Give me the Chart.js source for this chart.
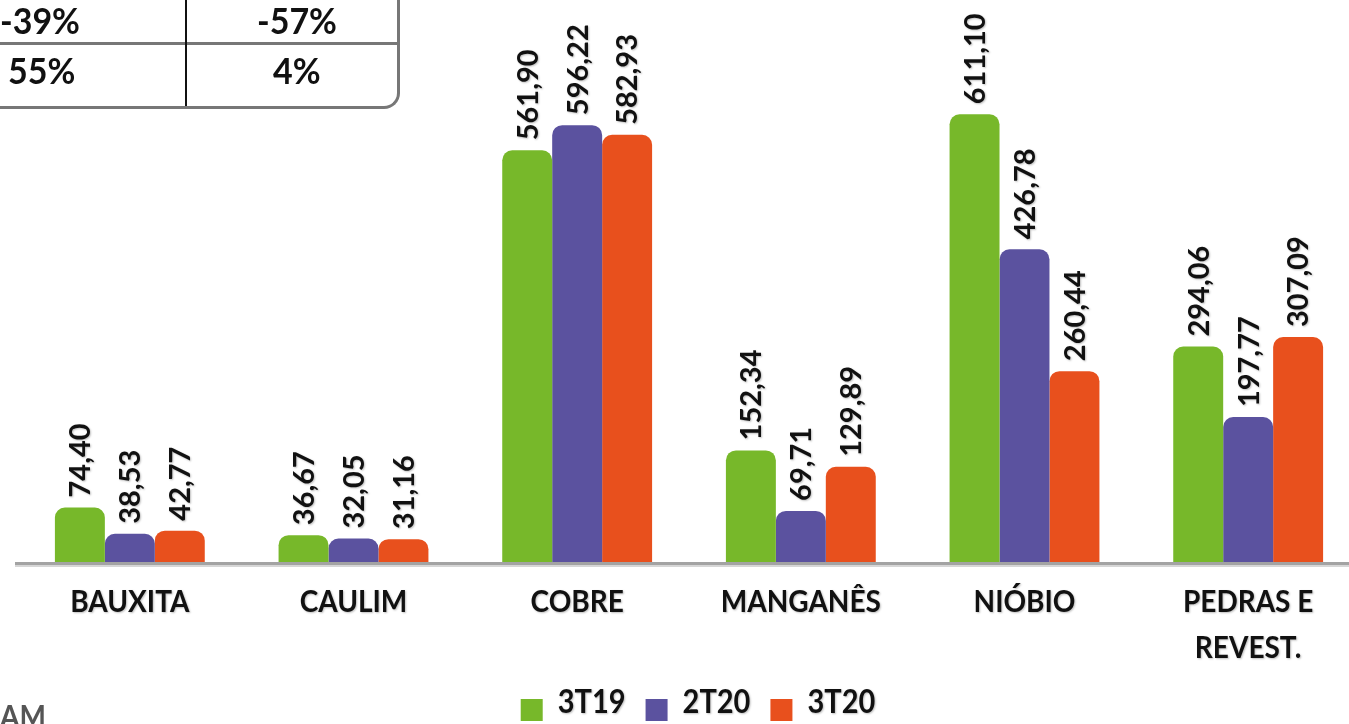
<!DOCTYPE html>
<html>
<head>
<meta charset="utf-8">
<script src="https://cdn.jsdelivr.net/npm/chart.js@4/dist/chart.umd.min.js"></script>
<style>
  html, body { margin: 0; padding: 0; background: #fff; overflow: hidden; width: 1349px; height: 724px; }
  #wrap { position: absolute; left: 0; top: 0; width: 1360px; height: 724px; }
  .t { position: absolute; font-family: Lato, sans-serif; font-weight: 700; font-size: 34px; color: #111; line-height: 1; transform-origin: 0 0; transform: scaleY(1.08); }
  .ln { position: absolute; }
</style>
</head>
<body>
<div id="wrap"><canvas id="c"></canvas></div>

<!-- partial table top-left -->
<div class="ln" style="left:0;top:42px;width:398px;height:3px;background:#777;"></div>
<div class="ln" style="left:185px;top:0;width:2px;height:106px;background:#111;"></div>
<div class="ln" style="left:0;top:-20px;width:397px;height:126px;border-right:3px solid #777;border-bottom:3px solid #777;border-bottom-right-radius:16px;"></div>
<div class="t" style="left:0;top:2px;">-39%</div>
<div class="t" style="left:257px;top:2px;">-57%</div>
<div class="t" style="left:8px;top:52px;">55%</div>
<div class="t" style="left:273px;top:52px;">4%</div>
<div class="t" style="left:0;top:700px;color:#555;font-size:28px;">AM</div>

<script>
const categories = ['BAUXITA', 'CAULIM', 'COBRE', 'MANGANÊS', 'NIÓBIO', ['PEDRAS E', 'REVEST.']];
const seriesNames = ['3T19', '2T20', '3T20'];
const values3T19 = [74.40, 36.67, 561.90, 152.34, 611.10, 294.06];
const values2T20 = [38.53, 32.05, 596.22, 69.71, 426.78, 197.77];
const values3T20 = [42.77, 31.16, 582.93, 129.89, 260.44, 307.09];
const colors = ['#77b82a', '#5b529f', '#e8501d'];

const FONT = 'Lato, sans-serif';

function shadow(ctx) {
  ctx.shadowColor = 'rgba(0,0,0,0.25)';
  ctx.shadowBlur = 2;
  ctx.shadowOffsetX = 1;
  ctx.shadowOffsetY = 1;
}

const drawPlugin = {
  id: 'custom',
  afterDatasetsDraw(chart) {
    const ctx = chart.ctx;
    const area = chart.chartArea;
    // axis line
    ctx.save();
    ctx.fillStyle = '#d6d6d6';
    ctx.fillRect(15, area.bottom + 2, 1349 - 15, 3);
    ctx.fillStyle = '#a3a3a3';
    ctx.fillRect(15, area.bottom, 1349 - 15, 3);
    ctx.restore();

    // data labels
    chart.data.datasets.forEach((ds, di) => {
      const meta = chart.getDatasetMeta(di);
      meta.data.forEach((bar, i) => {
        const txt = ds.data[i].toFixed(2).replace('.', ',');
        ctx.save();
        ctx.translate(bar.x + 1, bar.y - 10);
        ctx.rotate(-Math.PI / 2);
        ctx.font = 'bold 29px ' + FONT;
        ctx.fillStyle = '#111';
        ctx.textAlign = 'left';
        ctx.textBaseline = 'middle';
        shadow(ctx);
        ctx.fillText(txt, 0, 0);
        ctx.restore();
      });
    });

    // category labels
    const xs = chart.scales.x;
    ctx.save();
    ctx.font = 'bold 28px ' + FONT;
    ctx.fillStyle = '#111';
    ctx.textAlign = 'center';
    ctx.textBaseline = 'middle';
    shadow(ctx);
    categories.forEach((c, i) => {
      const x = xs.getPixelForValue(i);
      const lines = Array.isArray(c) ? c : [c];
      lines.forEach((l, k) => {
        ctx.save();
        ctx.translate(x, area.bottom + 40 + k * 46);
        ctx.scale(1, 1.12);
        ctx.fillText(l, 0, 0);
        ctx.restore();
      });
    });
    ctx.restore();

    // legend
    ctx.save();
    ctx.font = 'bold 29px ' + FONT;
    const sq = 22, gapT = 15, gapI = 20;
    const widths = seriesNames.map(n => ctx.measureText(n).width);
    const total = widths.reduce((a, w) => a + sq + gapT + w, 0) + gapI * (seriesNames.length - 1);
    let x = 698 - total / 2;
    const yMid = 703;
    seriesNames.forEach((n, i) => {
      ctx.fillStyle = colors[i];
      ctx.fillRect(x, yMid - 4, sq, sq);
      x += sq + gapT;
      ctx.fillStyle = '#111';
      ctx.textAlign = 'left';
      ctx.textBaseline = 'middle';
      ctx.save();
      ctx.translate(x, yMid);
      ctx.scale(1, 1.1);
      shadow(ctx);
      ctx.fillText(n, 0, 0);
      ctx.restore();
      x += widths[i] + gapI;
    });
    ctx.restore();
  }
};

new Chart(document.getElementById('c'), {
  type: 'bar',
  data: {
    labels: categories,
    datasets: [
      { label: seriesNames[0], data: values3T19, backgroundColor: colors[0] },
      { label: seriesNames[1], data: values2T20, backgroundColor: colors[1] },
      { label: seriesNames[2], data: values3T20, backgroundColor: colors[2] }
    ]
  },
  options: {
    responsive: true,
    maintainAspectRatio: false,
    animation: false,
    layout: { padding: { left: 18, right: 0, top: 0, bottom: 162 } },
    datasets: {
      bar: { categoryPercentage: 0.67, barPercentage: 1.0, borderRadius: 10, borderSkipped: 'bottom' }
    },
    plugins: { legend: { display: false }, tooltip: { enabled: false } },
    scales: {
      x: { display: false },
      y: { display: false, min: 0, max: 767 }
    }
  },
  plugins: [drawPlugin]
});
</script>
</body>
</html>
